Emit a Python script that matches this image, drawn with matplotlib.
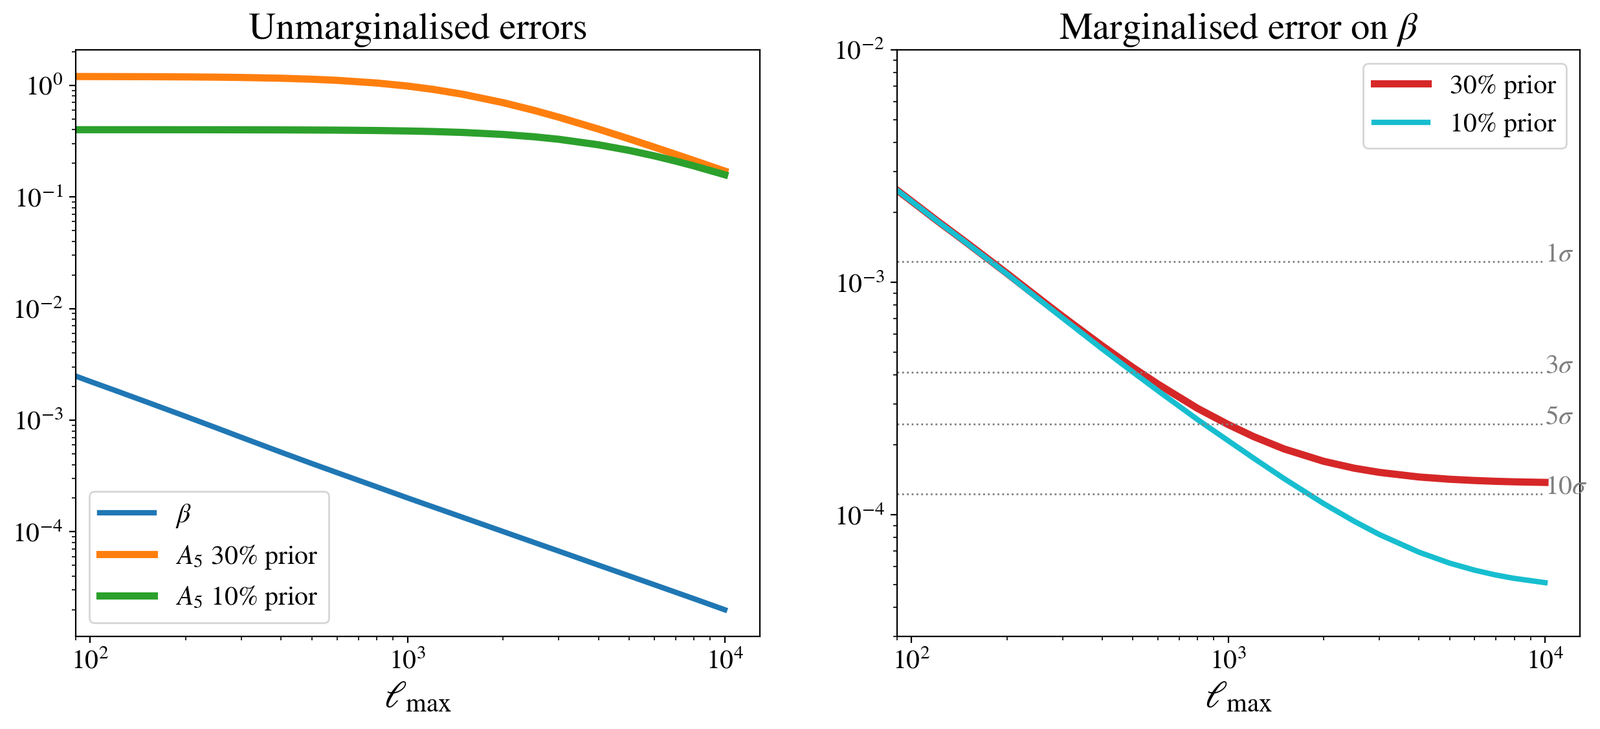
import matplotlib
matplotlib.use('Agg')
import matplotlib.pyplot as plt

plt.rcParams['font.family'] = ['STIXGeneral', 'DejaVu Serif']
plt.rcParams['mathtext.fontset'] = 'stix'

# multipole values the curves were read at
ell = [90, 100, 120, 150, 200, 250, 300, 400, 500, 600, 800, 1000, 1200,
       1500, 2000, 2500, 3000, 4000, 5000, 6000, 7000, 8000, 10000]

# unmarginalised errors (left)
err_beta = [2.48e-3, 2.22e-3, 1.842e-3, 1.46e-3, 1.08e-3, 8.52e-4, 7.0e-4, 5.15e-4,
            4.08e-4, 3.383e-4, 2.525e-4, 2.01e-4, 1.675e-4, 1.34e-4, 1.005e-4,
            8.04e-5, 6.7e-5, 5.02e-5, 4.02e-5, 3.35e-5, 2.87e-5, 2.51e-5, 2.0e-5]
err_A5_30 = [1.1976, 1.1971, 1.1958, 1.1935, 1.1885, 1.1822, 1.1746, 1.1559, 1.1331,
             1.1070, 1.0479, 0.9842, 0.9201, 0.8290, 0.6990, 0.5969, 0.5173, 0.4048,
             0.3307, 0.2788, 0.2407, 0.2116, 0.1703]
err_A5_10 = [0.3999, 0.3999, 0.3998, 0.3998, 0.3996, 0.3993, 0.3990, 0.3983, 0.3973,
             0.3962, 0.3933, 0.3896, 0.3853, 0.3777, 0.3627, 0.3458, 0.3281, 0.2929,
             0.2608, 0.2330, 0.2094, 0.1894, 0.1580]

# marginalised error on beta (right)
marg_30 = [2.492e-3, 2.234e-3, 1.847e-3, 1.473e-3, 1.093e-3, 8.63e-4, 7.13e-4, 5.33e-4,
           4.30e-4, 3.648e-4, 2.870e-4, 2.445e-4, 2.173e-4, 1.921e-4, 1.700e-4,
           1.587e-4, 1.523e-4, 1.455e-4, 1.423e-4, 1.405e-4, 1.394e-4, 1.387e-4, 1.379e-4]
marg_10 = [2.489e-3, 2.23e-3, 1.842e-3, 1.467e-3, 1.086e-3, 8.53e-4, 7.02e-4, 5.17e-4,
           4.11e-4, 3.416e-4, 2.568e-4, 2.083e-4, 1.756e-4, 1.432e-4, 1.118e-4,
           9.38e-5, 8.23e-5, 6.91e-5, 6.20e-5, 5.78e-5, 5.51e-5, 5.33e-5, 5.11e-5]

beta_fid = 1.23e-3
n_sigma = [1, 3, 5, 10]

fig = plt.figure(figsize=(12.36, 5.63), dpi=200)
ax1 = fig.add_axes([0.0473, 0.127, 0.4276, 0.8046])
ax2 = fig.add_axes([0.5607, 0.127, 0.4268, 0.8046])

ax1.loglog(ell, err_beta, color='C0', lw=3, label=r'$\beta$')
ax1.loglog(ell, err_A5_30, color='C1', lw=4, label=r'$A_5$ 30% prior')
ax1.loglog(ell, err_A5_10, color='C2', lw=4, label=r'$A_5$ 10% prior')
ax1.set_xlim(90, 12900)
ax1.set_title('Unmarginalised errors', fontsize=21)
ax1.set_xlabel(r'$\ell_{\rm max}$', fontsize=21)
ax1.legend(loc='lower left', fontsize=15)

ax2.loglog(ell, marg_30, color='C3', lw=4, label='30% prior')
ax2.loglog(ell, marg_10, color='C9', lw=3, label='10% prior')
for n in n_sigma:
    ax2.hlines(beta_fid / n, 90, 1e4, colors='gray', linestyles=':', lw=1)
    ax2.text(1e4, beta_fid / n, r'$%d\sigma$' % n, color='gray', fontsize=15,
             ha='left', va='baseline')
ax2.set_xlim(90, 12900)
ax2.set_ylim(3e-5, 1e-2)
ax2.set_title(r'Marginalised error on $\beta$', fontsize=21)
ax2.set_xlabel(r'$\ell_{\rm max}$', fontsize=21)
ax2.legend(loc='upper right', fontsize=15)

for ax in (ax1, ax2):
    ax.tick_params(labelsize=15)

fig.savefig('out.png', dpi=200)
